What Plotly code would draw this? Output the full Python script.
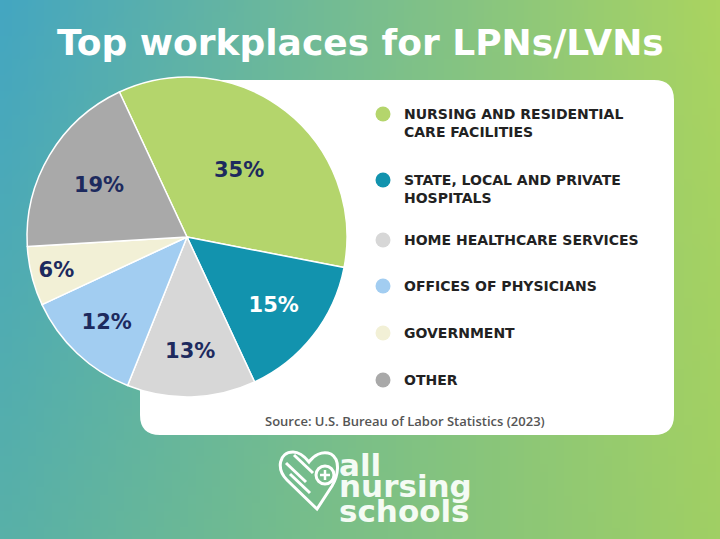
import base64, struct, zlib
import plotly.graph_objects as go

# ---------------- data ----------------
categories = [
    "NURSING AND RESIDENTIAL<br>CARE FACILITIES",
    "STATE, LOCAL AND PRIVATE<br>HOSPITALS",
    "HOME HEALTHCARE SERVICES",
    "OFFICES OF PHYSICIANS",
    "GOVERNMENT",
    "OTHER",
]
shares = [35, 15, 13, 12, 6, 19]
slice_colors = ["#b4d56c", "#1293ae", "#d7d7d7", "#a2cdf1", "#f2f0d6", "#a9a9a9"]
label_colors = ["#1d2a5e", "#ffffff", "#1d2a5e", "#1d2a5e", "#1d2a5e", "#1d2a5e"]
legend_y = [114, 180, 240, 286, 333, 380]

title_text = "Top workplaces for LPNs/LVNs"
source_text = "Source: U.S. Bureau of Labor Statistics (2023)"
logo_lines = ["all", "nursing", "schools"]

W, H = 720, 539


# ---------------- gradient background (PNG) ----------------
def make_png(w, h, tl, tr, bl, br):
    rows = []
    for j in range(h):
        v = j / (h - 1)
        row = bytearray([0])
        for i in range(w):
            u = i / (w - 1)
            for c in range(3):
                top = tl[c] * (1 - u) + tr[c] * u
                bot = bl[c] * (1 - u) + br[c] * u
                row.append(int(round(top * (1 - v) + bot * v)))
        rows.append(bytes(row))
    raw = b"".join(rows)

    def chunk(tag, data):
        c = struct.pack(">I", len(data)) + tag + data
        return c + struct.pack(">I", zlib.crc32(tag + data) & 0xFFFFFFFF)

    png = b"\x89PNG\r\n\x1a\n"
    png += chunk(b"IHDR", struct.pack(">IIBBBBB", w, h, 8, 2, 0, 0, 0))
    png += chunk(b"IDAT", zlib.compress(raw, 9))
    png += chunk(b"IEND", b"")
    return "data:image/png;base64," + base64.b64encode(png).decode()


bg = make_png(90, 68, (68, 166, 193), (170, 212, 96), (88, 176, 168), (160, 207, 100))

fig = go.Figure()

# pie
fig.add_trace(go.Pie(
    values=shares,
    labels=[c.replace("<br>", " ") for c in categories],
    marker=dict(colors=slice_colors, line=dict(color="#ffffff", width=1.5)),
    sort=False,
    direction="clockwise",
    rotation=-25,
    texttemplate="%{value}%",
    textinfo="text",
    textposition="inside",
    insidetextorientation="horizontal",
    textfont=dict(family="DejaVu Sans", size=21, color=label_colors, weight=700),
    domain=dict(x=[27 / W, 347 / W], y=[1 - 397 / H, 1 - 77 / H]),
    showlegend=False,
    hoverinfo="label+percent",
))

# legend markers
fig.add_trace(go.Scatter(
    x=[383] * len(categories),
    y=legend_y,
    mode="markers",
    marker=dict(size=15, color=slice_colors, line=dict(width=0)),
    hoverinfo="skip",
    showlegend=False,
    xaxis="x", yaxis="y",
))

annotations = []
for lab, yy in zip(categories, legend_y):
    annotations.append(dict(
        x=402, y=yy - 10, xref="x", yref="y", text=lab, showarrow=False,
        xanchor="left", yanchor="top", align="left",
        font=dict(family="DejaVu Sans", size=14, color="#222222", weight=700),
    ))

annotations.append(dict(
    x=W / 2, y=42, xref="x", yref="y", text=title_text, showarrow=False,
    xanchor="center", yanchor="middle",
    font=dict(family="DejaVu Sans", size=36, color="#ffffff", weight=700),
))
annotations.append(dict(
    x=405, y=421, xref="x", yref="y", text=source_text, showarrow=False,
    xanchor="center", yanchor="middle",
    font=dict(family="Open Sans", size=13, color="#555555", weight=600),
))
for txt, yy in zip(logo_lines, [465, 486, 511]):
    annotations.append(dict(
        x=337, y=yy, xref="x", yref="y", text=txt, showarrow=False,
        xanchor="left", yanchor="middle",
        font=dict(family="DejaVu Sans", size=31, color="#f4fbf4", weight=700),
    ))

shapes = [
    # white panel
    dict(type="path", xref="x", yref="y", layer="below",
         path="M 160 80 L 654 80 Q 674 80 674 100 L 674 415 Q 674 435 654 435 "
              "L 160 435 Q 140 435 140 415 L 140 100 Q 140 80 160 80 Z",
         fillcolor="#ffffff", line=dict(width=0)),
    # logo heart outline
    dict(type="path", xref="x", yref="y", layer="above",
         path="M 317 509 L 287 480 C 276 469 279 452 293 452 C 300 452 305 457 309 462 "
              "C 313 456 322 450 331 454 C 341 460 338 476 332 486 Z",
         fillcolor="rgba(0,0,0,0)", line=dict(color="#ffffff", width=3)),
    dict(type="line", xref="x", yref="y", x0=286, y0=463, x1=306, y1=482,
         line=dict(color="#ffffff", width=3)),
    dict(type="line", xref="x", yref="y", x0=290, y0=474, x1=310, y1=493,
         line=dict(color="#ffffff", width=3)),
    dict(type="line", xref="x", yref="y", x0=294, y0=455, x1=313, y1=473,
         line=dict(color="#ffffff", width=3)),
    dict(type="circle", xref="x", yref="y", x0=316, y0=466, x1=334, y1=484,
         fillcolor="rgba(0,0,0,0)", line=dict(color="#ffffff", width=3)),
    dict(type="line", xref="x", yref="y", x0=325, y0=470, x1=325, y1=480,
         line=dict(color="#ffffff", width=2.5)),
    dict(type="line", xref="x", yref="y", x0=320, y0=475, x1=330, y1=475,
         line=dict(color="#ffffff", width=2.5)),
]

fig.update_layout(
    width=W, height=H,
    margin=dict(l=0, r=0, t=0, b=0),
    paper_bgcolor="#7fbf9a",
    plot_bgcolor="rgba(0,0,0,0)",
    xaxis=dict(range=[0, W], visible=False, domain=[0, 1], fixedrange=True),
    yaxis=dict(range=[H, 0], visible=False, domain=[0, 1], fixedrange=True),
    images=[dict(source=bg, xref="paper", yref="paper", x=0, y=1, sizex=1, sizey=1,
                 xanchor="left", yanchor="top", sizing="stretch", layer="below")],
    shapes=shapes,
    annotations=annotations,
    showlegend=False,
)

fig.write_html("out.html", config={"displayModeBar": False},
               post_script="document.body.style.margin='0';")
